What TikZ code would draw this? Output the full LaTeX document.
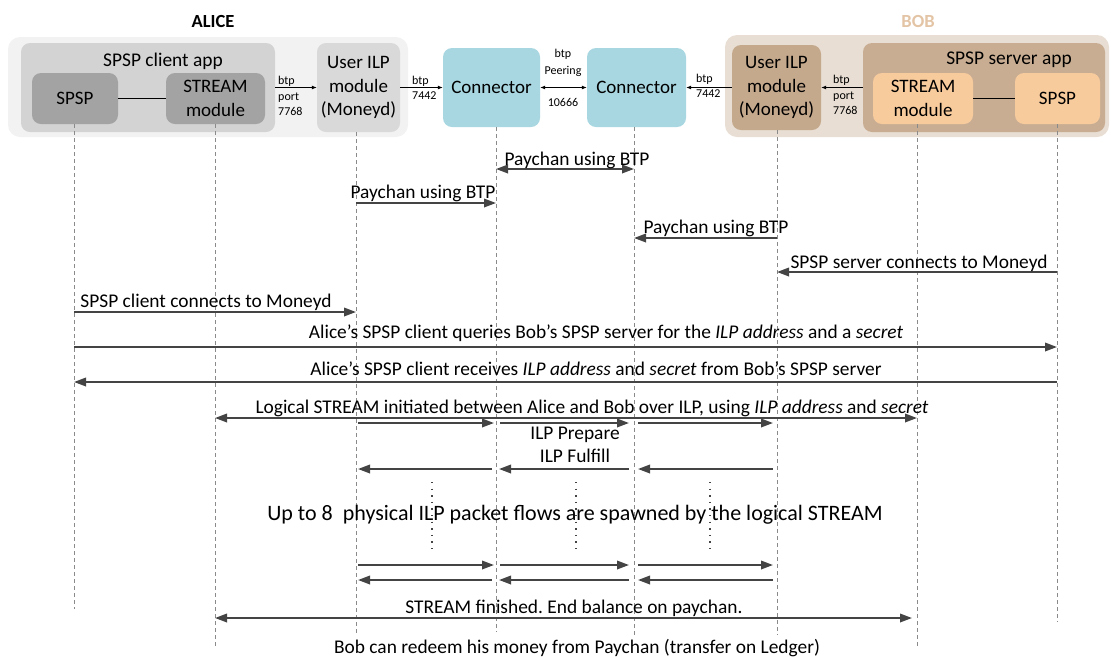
\documentclass[tikz,border=0pt]{standalone}
\usepackage{fontspec}
\setmainfont{Carlito}
\usetikzlibrary{arrows.meta}
\definecolor{aliceouter}{HTML}{F2F2F2}
\definecolor{aliceapp}{HTML}{D3D3D3}
\definecolor{aliceinner}{HTML}{A3A3A3}
\definecolor{aliceilp}{HTML}{D9D9D9}
\definecolor{connc}{HTML}{A9D7E1}
\definecolor{bobouter}{HTML}{E8DED3}
\definecolor{bobilp}{HTML}{C5A98D}
\definecolor{bobapp}{HTML}{C8AD92}
\definecolor{bobinner}{HTML}{F8CB9D}
\definecolor{boblabel}{HTML}{E3C4A5}
\definecolor{arrc}{HTML}{444444}
\definecolor{lifec}{HTML}{8A8A8A}
\frenchspacing
\begin{document}
\begin{tikzpicture}[x=1pt,y=-1pt,
  box/.style={rounded corners=9pt, draw=none, inner sep=0pt, align=center, font=\fontsize{19}{23.5}\selectfont, text=black},
  life/.style={draw=lifec, line width=0.9pt, dash pattern=on 4pt off 3pt},
  msg/.style={draw=arrc, line width=1.9pt, -{Triangle[length=12pt,width=8.5pt]}},
  msgb/.style={draw=arrc, line width=1.9pt, {Triangle[length=12pt,width=8.5pt]}-{Triangle[length=12pt,width=8.5pt]}},
  lbl/.style={anchor=base, inner sep=0pt, font=\fontsize{19.4}{23}\selectfont},
  portarrow/.style={draw=black, line width=0.8pt, -{Latex[length=5pt,width=4pt]}},
  portboth/.style={draw=black, line width=0.8pt, {Latex[length=5pt,width=4pt]}-{Latex[length=5pt,width=4pt]}},
  small/.style={anchor=base west, inner sep=0pt, font=\fontsize{12}{14}\selectfont},
  smallc/.style={anchor=base, inner sep=0pt, font=\fontsize{12}{14}\selectfont},
  dotline/.style={draw=arrc, line width=1.4pt, dash pattern=on 1.4pt off 5.2pt},
]
\useasboundingbox (0,0) rectangle (1111,657);

% titles
\node[anchor=base, inner sep=0pt, font=\fontsize{18.5}{22}\selectfont\bfseries] (alice) at (213,27) {ALICE};
\node[anchor=base, inner sep=0pt, font=\fontsize{18.5}{22}\selectfont\bfseries, text=boblabel] (bob) at (918,27) {BOB};

% Alice side
\node[box, rounded corners=12pt, fill=aliceouter, minimum width=400pt, minimum height=100pt] (outerA) at (208,87) {};
\node[box, fill=aliceapp, minimum width=254pt, minimum height=89pt] (appA) at (148,87.5) {};
\node[lbl] (appAt) at (163,66) {SPSP client app};
\node[box, fill=aliceinner, minimum width=86pt, minimum height=51pt] (spspA) at (75,98.5) {SPSP};
\node[box, fill=aliceinner, minimum width=99pt, minimum height=51pt] (streamA) at (215.5,98.5) {STREAM\\module};
\node[box, fill=aliceilp, minimum width=83pt, minimum height=89pt] (ilpA) at (358.5,87.5) {User ILP\\module\\(Moneyd)};

% connectors
\node[box, fill=connc, minimum width=97pt, minimum height=79pt] (conn1) at (491.5,87.5) {Connector};
\node[box, fill=connc, minimum width=99pt, minimum height=79pt] (conn2) at (636.5,87.5) {Connector};

% Bob side
\node[box, rounded corners=12pt, fill=bobouter, minimum width=384pt, minimum height=102pt] (outerB) at (917,86) {};
\node[box, fill=bobilp, minimum width=89pt, minimum height=85pt] (ilpB) at (776.5,87.5) {User ILP\\module\\(Moneyd)};
\node[box, fill=bobapp, minimum width=242pt, minimum height=89pt] (appB) at (984,87.5) {};
\node[lbl] (appBt) at (1009,64) {SPSP server app};
\node[box, fill=bobinner, minimum width=100pt, minimum height=51pt] (streamB) at (923,98.5) {STREAM\\module};
\node[box, fill=bobinner, minimum width=85pt, minimum height=51pt] (spspB) at (1057.5,98.5) {SPSP};

% inner links
\draw[black, line width=1pt] (spspA.east) -- (streamA.west);
\draw[black, line width=1pt] (streamB.east) -- (spspB.west);

% header arrows
\draw[portarrow] (appA.east) -- (ilpA.west);
\node[small] (pa1) at (278,84) {btp};
\node[small] (pa2) at (278,100) {port};
\node[small] (pa3) at (278,115) {7768};
\draw[portarrow] (ilpA.east) -- (conn1.west);
\node[small] (pb1) at (412,84) {btp};
\node[small] (pb2) at (412,99) {7442};
\draw[portboth] (conn1.east) -- (conn2.west);
\node[smallc] (pc1) at (563,57) {btp};
\node[smallc] (pc2) at (563,74) {Peering};
\node[smallc] (pc3) at (563,106) {10666};
\draw[portarrow] (ilpB.west) -- (conn2.east);
\node[small] (pd1) at (696,82) {btp};
\node[small] (pd2) at (696,97) {7442};
\draw[portarrow] (appB.west) -- (ilpB.east);
\node[small] (pe1) at (833,83) {btp};
\node[small] (pe2) at (833,99) {port};
\node[small] (pe3) at (833,114) {7768};

% lifelines
\coordinate (l1) at (74,124);
\coordinate (l2) at (215,124);
\coordinate (l3) at (356,132);
\coordinate (l4) at (496,127);
\coordinate (l5) at (634,127);
\coordinate (l6) at (777,130);
\coordinate (l7) at (917,124);
\coordinate (l8) at (1057,124);
\draw[life] (l1) -- (l1 |- 0,609);
\draw[life] (l2) -- (l2 |- 0,647);
\draw[life] (l3) -- (l3 |- 0,635);
\draw[life] (l4) -- (l4 |- 0,632);
\draw[life] (l5) -- (l5 |- 0,635);
\draw[life] (l6) -- (l6 |- 0,635);
\draw[life] (l7) -- (l7 |- 0,646);
\draw[life] (l8) -- (l8 |- 0,622);

% messages
\draw[msgb] (l4 |- 0,169) -- (l5 |- 0,169);
\node[lbl] (m1) at (577,165) {Paychan using BTP};
\draw[msg] (l3 |- 0,203) -- (l4 |- 0,203);
\node[lbl] (m2) at (423,198) {Paychan using BTP};
\draw[msg] (l6 |- 0,238) -- (l5 |- 0,238);
\node[lbl] (m3) at (716,233) {Paychan using BTP};
\draw[msg] (l8 |- 0,272) -- (l6 |- 0,272);
\node[lbl] (m4) at (919,268) {SPSP server connects to Moneyd};
\draw[msg] (l1 |- 0,312) -- (l3 |- 0,312);
\node[lbl] (m5) at (206,307) {SPSP client connects to Moneyd};
\draw[msg] (l1 |- 0,347) -- (l8 |- 0,347);
\node[lbl] (m6) at (606,338) {Alice’s SPSP client queries Bob’s SPSP server for the \textit{ILP address} and a \textit{secret}};
\draw[msg] (l8 |- 0,382) -- (l1 |- 0,382);
\node[lbl] (m7) at (596,375) {Alice’s SPSP client receives \textit{ILP address} and \textit{secret} from Bob’s SPSP server};
\draw[msgb] (l2 |- 0,418) -- (l7 |- 0,418);
\node[lbl] (m8) at (592,413) {Logical STREAM initiated between Alice and Bob over ILP, using \textit{ILP address} and \textit{secret}};

% ILP packets
\draw[msg, shorten <=2pt, shorten >=2pt] (l3 |- 0,423) -- (l4 |- 0,423);
\draw[msg, shorten <=4pt, shorten >=5pt] (l4 |- 0,423) -- (l5 |- 0,423);
\draw[msg, shorten <=4pt, shorten >=4pt] (l5 |- 0,423) -- (l6 |- 0,423);
\node[lbl] (prep) at (575,439) {ILP Prepare};
\node[lbl] (fulf) at (575,462) {ILP Fulfill};
\draw[msg, shorten <=4pt, shorten >=2pt] (l4 |- 0,469) -- (l3 |- 0,469);
\draw[msg, shorten <=5pt, shorten >=3pt] (l5 |- 0,469) -- (l4 |- 0,469);
\draw[msg, shorten <=4pt, shorten >=4pt] (l6 |- 0,469) -- (l5 |- 0,469);

\draw[dotline] (432,482) -- (432,549);
\draw[dotline] (576,482) -- (576,549);
\draw[dotline] (710,482) -- (710,549);
\node[anchor=base, inner sep=0pt, font=\fontsize{22}{26}\selectfont] (upto) at (575,520) {Up to 8\ \ physical ILP packet flows are spawned by the logical STREAM};

\draw[msg, shorten <=2pt, shorten >=2pt] (l3 |- 0,565) -- (l4 |- 0,565);
\draw[msg, shorten <=4pt, shorten >=5pt] (l4 |- 0,565) -- (l5 |- 0,565);
\draw[msg, shorten <=4pt, shorten >=4pt] (l5 |- 0,565) -- (l6 |- 0,565);
\draw[msg, shorten <=4pt, shorten >=2pt] (l4 |- 0,580) -- (l3 |- 0,580);
\draw[msg, shorten <=5pt, shorten >=3pt] (l5 |- 0,580) -- (l4 |- 0,580);
\draw[msg, shorten <=4pt, shorten >=4pt] (l6 |- 0,580) -- (l5 |- 0,580);

\draw[msgb, shorten >=5pt] (l2 |- 0,618) -- (l7 |- 0,618);
\node[lbl] (fin) at (574,613) {STREAM finished. End balance on paychan.};
\node[lbl] (redeem) at (577,653) {Bob can redeem his money from Paychan (transfer on Ledger)};
\end{tikzpicture}
\end{document}
